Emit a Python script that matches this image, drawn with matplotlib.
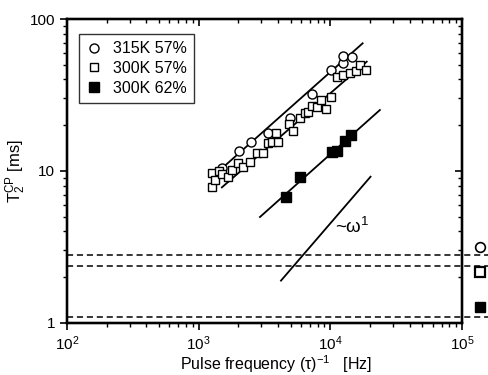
import numpy as np
import matplotlib
matplotlib.use("Agg")
import matplotlib.pyplot as plt

plt.rcParams['font.family'] = ['Liberation Sans', 'DejaVu Sans']
plt.rcParams['mathtext.default'] = 'regular'

# 315 K, 57 %  (open circles)
circ_f = [1503, 2023, 2496, 3360, 4936, 7250, 10110, 12470, 12470, 14590]
circ_t = [10.5, 13.5, 15.5, 17.8, 22.3, 32.1, 46.2, 51.4, 57.1, 56.2]

# 300 K, 57 %  (open squares)
sq_f = [1256, 1256, 1330, 1426, 1503, 1669, 1790, 1988, 2169, 2453, 2756,
        3094, 3360, 3603, 4000, 3864, 4851, 5226, 5878, 6412, 6796, 7211,
        7870, 8439, 9265, 10050, 11160, 12530, 14090, 15640, 16780, 18630]
sq_t = [7.88, 9.66, 8.73, 10.0, 9.51, 9.09, 10.15, 11.34, 10.67, 11.51, 13.1,
        13.2, 15.2, 15.6, 15.6, 17.7, 20.4, 18.3, 22.2, 24.0, 24.5, 26.8,
        26.2, 29.3, 25.5, 30.8, 41.3, 42.8, 44.3, 45.5, 49.8, 46.2]

# 300 K, 62 %  (filled squares)
fill_f = [4600, 5880, 10280, 11200, 12900, 14300]
fill_t = [6.74, 9.14, 13.3, 13.5, 15.7, 17.3]

# power-law fits (end points)
fit_circ_f, fit_circ_t = [1400, 17600], [9.86, 69.2]
fit_sq_f, fit_sq_t = [1500, 18900], [7.8, 52.4]
fit_fill_f, fit_fill_t = [2920, 23800], [4.98, 25.2]
slope1_f, slope1_t = [4220, 20200], [1.90, 9.17]

# static T2 levels (dashed) and their markers at the right edge
static_t = [2.79, 2.37, 1.10]
right_f = 1.37e5
right_t = [3.18, 2.15, 1.28]

legend_labels = ["315K 57%", "300K 57%", "300K 62%"]


def main():
    fig = plt.figure(figsize=(4.88, 3.75), dpi=100)
    ax = fig.add_axes([0.1373, 0.1387, 0.8094, 0.8106])
    ax.set_xscale('log')
    ax.set_yscale('log')
    ax.set_xlim(1e2, 1e5)
    ax.set_ylim(1, 100)

    for y in static_t:
        ax.plot([1e2, 1.6e5], [y, y], color='black', lw=1.1,
                ls=(0, (4, 2.5)), clip_on=False)

    ax.plot(fit_circ_f, fit_circ_t, color='black', lw=1.3)
    ax.plot(fit_sq_f, fit_sq_t, color='black', lw=1.3)
    ax.plot(fit_fill_f, fit_fill_t, color='black', lw=1.3)
    ax.plot(slope1_f, slope1_t, color='black', lw=1.3)

    h1, = ax.plot(circ_f, circ_t, 'o', ms=6.5, mfc='white', mec='black', mew=1.0)
    h2, = ax.plot(sq_f, sq_t, 's', ms=5.5, mfc='white', mec='black', mew=1.0)
    h3, = ax.plot(fill_f, fill_t, 's', ms=7.5, mfc='black', mec='black')

    ax.plot([right_f], [right_t[0]], 'o', ms=7, mfc='white', mec='black',
            mew=1.2, clip_on=False)
    ax.plot([right_f], [right_t[1]], 's', ms=7, mfc='white', mec='black',
            mew=1.6, clip_on=False)
    ax.plot([right_f], [right_t[2]], 's', ms=7, mfc='black', mec='black',
            clip_on=False)

    ax.text(14590, 4.3, r'~$\omega^1$', fontsize=13.5, ha='center', va='center')

    leg = ax.legend([h1, h2, h3], legend_labels, loc='upper left',
                    bbox_to_anchor=(0.03, 0.951), borderaxespad=0,
                    fontsize=11.5, frameon=True, fancybox=False,
                    edgecolor='black', handlelength=1.0, handletextpad=0.7,
                    borderpad=0.45, labelspacing=0.3)
    leg.get_frame().set_linewidth(1.0)

    ax.set_yticks([1, 10, 100], labels=['1', '10', '100'])
    ax.tick_params(which='major', direction='out', length=5, width=1.2,
                   labelsize=11, top=False, right=False)
    ax.tick_params(which='minor', direction='out', length=3, width=1.0,
                   top=False, right=False)
    ax.yaxis.set_minor_formatter(plt.NullFormatter())
    for s in ax.spines.values():
        s.set_linewidth(1.6)

    # inward ticks on top and right
    axr = ax.twinx()
    axr.set_yscale('log')
    axr.set_ylim(1, 100)
    axr.tick_params(which='both', direction='in', labelright=False)
    axr.tick_params(which='major', length=5, width=1.2)
    axr.tick_params(which='minor', length=3, width=1.0)
    axt = ax.twiny()
    axt.set_xscale('log')
    axt.set_xlim(1e2, 1e5)
    axt.tick_params(which='both', direction='in', labeltop=False)
    axt.tick_params(which='major', length=5, width=1.2)
    axt.tick_params(which='minor', length=3, width=1.0)
    for a in (axr, axt):
        for s in a.spines.values():
            s.set_linewidth(1.6)

    ax.set_xlabel(r'Pulse frequency ($\tau$)$^{-1}$   [Hz]', fontsize=11.5)
    ax.xaxis.set_label_coords(0.53, -0.1)
    ax.set_ylabel(r'T$_2^{CP}$ [ms]', fontsize=12)
    ax.yaxis.set_label_coords(-0.1, 0.5)

    fig.savefig("out.png", dpi=100)


if __name__ == "__main__":
    main()
